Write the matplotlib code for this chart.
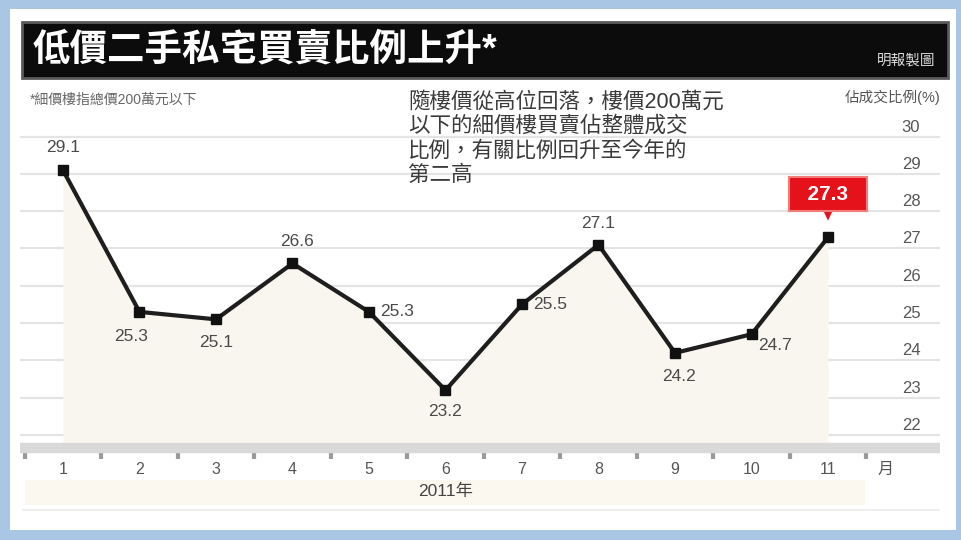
import matplotlib
matplotlib.use("Agg")
import matplotlib.pyplot as plt
from matplotlib.patches import Rectangle
from matplotlib.transforms import ScaledTranslation

plt.rcParams['font.family'] = ['Liberation Sans', 'Noto Sans CJK TC', 'DejaVu Sans']

# Data
months = [1, 2, 3, 4, 5, 6, 7, 8, 9, 10, 11]
share = [29.1, 25.3, 25.1, 26.6, 25.3, 23.2, 25.5, 27.1, 24.2, 24.7, 27.3]
month_labels = ['1', '2', '3', '4', '5', '6', '7', '8', '9', '10', '11', '月']
y_ticks = [22, 23, 24, 25, 26, 27, 28, 29, 30]

title = '低價二手私宅買賣比例上升*'
source = '明報製圖'
note = '*細價樓指總價200萬元以下'
unit = '佔成交比例(%)'
year_label = '2011年'
comment = ('隨樓價從高位回落，樓價200萬元\n'
           '以下的細價樓買賣佔整體成交\n'
           '比例，有關比例回升至今年的\n'
           '第二高')

# label offsets (points) for each data value
offsets = [(0, 16), (-6, -18), (0, -17), (3, 16), (20, 0), (0, -15),
           (20, 0), (0, 15), (3, -17), (17, -8)]

W, H = 962, 540
fig = plt.figure(figsize=(W / 100, H / 100), dpi=100, facecolor='#a9c6e4')


def px_rect(x0, y0, x1, y1, z, **kw):
    fig.patches.append(Rectangle((x0 / W, 1 - y1 / H), (x1 - x0) / W, (y1 - y0) / H,
                                 transform=fig.transFigure, zorder=z, **kw))


# frame, title bar, bottom strips
px_rect(10, 9, 956, 530, -3, facecolor='white', edgecolor='none')
px_rect(22, 22, 948, 78, 1, facecolor='#0c0c0c', edgecolor='#5a5a5a', linewidth=2)
px_rect(25, 480, 865, 505, -2, facecolor='#fbf8f0', edgecolor='none')
px_rect(22, 509, 940, 511, -2, facecolor='#eeeeee', edgecolor='none')

fig.text(33 / W, 1 - 51 / H, title, color='white', fontsize=27, fontweight='bold',
         va='center', ha='left', zorder=5)
fig.text(935 / W, 1 - 61 / H, source, color='#dddddd', fontsize=10.5, va='center',
         ha='right', zorder=5)
fig.text(30 / W, 1 - 100 / H, note, color='#666666', fontsize=10, va='center', ha='left')
fig.text(940 / W, 1 - 97 / H, unit, color='#555555', fontsize=10.5, va='center', ha='right')
fig.text(408 / W, 1 - 92 / H, comment, color='#3a3a3a', fontsize=15.5, va='top', ha='left',
         linespacing=1.2, zorder=5)

# main axes
ax = fig.add_axes([20 / W, (H - 448) / H, 920 / W, 333 / H])
ax.set_zorder(2)
ax.set_facecolor('none')
ax.set_xlim(0.438, 12.464)
ax.set_ylim(21.65, 30.58)

ax.fill_between(months, share, 21.65, color='#f8f6ee', linewidth=0, zorder=1)
ax.plot(months, share, color='#1e1e1e', linewidth=3, marker='s', markersize=7,
        markerfacecolor='#111111', markeredgecolor='#111111', zorder=4)

for m, v, (dx, dy) in zip(months[:-1], share[:-1], offsets):
    ax.annotate(f'{v:.1f}', xy=(m, v), xytext=(dx, dy), textcoords='offset points',
                ha='center', va='center', fontsize=12.5, color='#4a4a4a', zorder=5)

ax.annotate(f'  {share[-1]:.1f}  ', xy=(months[-1], share[-1]), xytext=(0, 31),
            textcoords='offset points', ha='center', va='center', fontsize=15,
            fontweight='bold', color='white', zorder=6,
            bbox=dict(boxstyle='square,pad=0.35', facecolor='#e5121b',
                      edgecolor='#f27c7c', linewidth=1.5),
            arrowprops=dict(arrowstyle='wedge,tail_width=0.4,shrink_factor=0.5',
                            facecolor='#e5121b', edgecolor='none', shrinkA=0, shrinkB=12))

# y grid and right-side labels (sitting above the gridlines)
ax.set_yticks(y_ticks)
ax.grid(axis='y', color='#e4e4e4', linewidth=1.6, zorder=0)
ax.set_axisbelow(True)
ax.tick_params(axis='y', left=False, right=False, labelleft=False, labelright=True,
               pad=-31, labelsize=12, labelcolor='#555555')
for lbl in ax.get_yticklabels():
    lbl.set_transform(lbl.get_transform() + ScaledTranslation(0, 11 / 100, fig.dpi_scale_trans))

# x axis: thick grey band with ticks between months
for side in ['top', 'left', 'right']:
    ax.spines[side].set_visible(False)
ax.spines['bottom'].set_color('#d9d9d9')
ax.spines['bottom'].set_linewidth(7.5)
ax.spines['bottom'].set_capstyle('butt')
ax.set_xticks(months + [11.75])
ax.set_xticklabels(month_labels)
ax.set_xticks([m - 0.5 for m in months] + [11.5], minor=True)
ax.tick_params(axis='x', which='major', length=0, pad=10, labelsize=11.5, labelcolor='#555555')
ax.tick_params(axis='x', which='minor', direction='out', length=8, width=3, color='#9a9a9a')
ax.set_xlabel(year_label, fontsize=12.5, color='#444444')
ax.xaxis.set_label_coords(426 / 920, -0.108)
ax.xaxis.label.set_va('top')

fig.savefig('out.png', dpi=100, facecolor=fig.get_facecolor())
